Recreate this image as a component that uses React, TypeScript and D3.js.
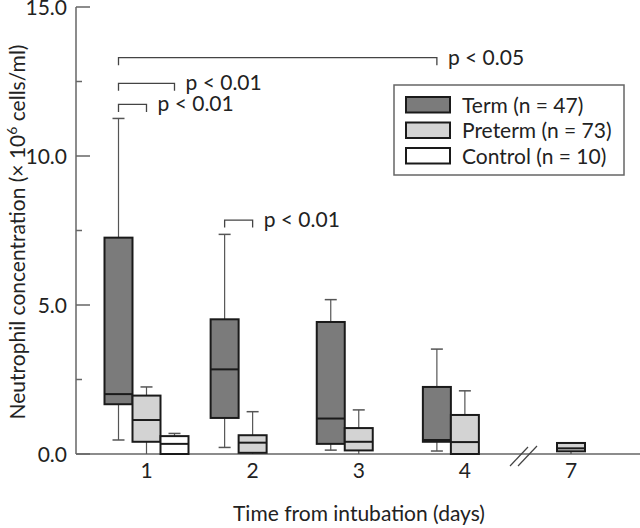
import React from "react";
import * as d3 from "d3";

const days = ["1", "2", "3", "4", "7"];
const groups = ["Term", "Preterm", "Control"];
const groupLabels = ["Term (n = 47)", "Preterm (n = 73)", "Control (n = 10)"];
const groupFills = ["#7b7b7b", "#d3d3d3", "#ffffff"];
const groupOffsets = [-1, 0, 1];

// [min, q1, median, q3, max]; null when absent
const termStats = [
  [0.47, 1.67, 2.01, 7.26, 11.26],
  [0.22, 1.21, 2.84, 4.52, 7.37],
  [0.13, 0.34, 1.19, 4.43, 5.18],
  [0.1, 0.41, 0.47, 2.25, 3.52],
  null,
];
const pretermStats = [
  [0, 0.41, 1.14, 1.96, 2.25],
  [0, 0.04, 0.38, 0.63, 1.42],
  [0, 0.12, 0.41, 0.87, 1.48],
  [0, 0, 0.4, 1.31, 2.12],
  [0, 0.09, 0.19, 0.37, 0.37],
];
const controlStats = [[0, 0, 0.34, 0.6, 0.69], null, null, null, null];

const yMajorTicks = [0, 5, 10, 15];
const yMinorTicks = [2.5, 7.5, 12.5];

const brackets = [
  { y: 13.3, fromDay: "1", fromGroup: 0, toDay: "4", toGroup: 0, label: "p < 0.05" },
  { y: 12.44, fromDay: "1", fromGroup: 0, toDay: "1", toGroup: 2, label: "p < 0.01" },
  { y: 11.73, fromDay: "1", fromGroup: 0, toDay: "1", toGroup: 1, label: "p < 0.01" },
  { y: 7.85, fromDay: "2", fromGroup: 0, toDay: "2", toGroup: 1, label: "p < 0.01" },
];

const FONT = "Lato, 'Open Sans', sans-serif";
const FS = 21;

export default function App() {
  const W = 640;
  const H = 528;
  const axisX = 76;
  const y = d3.scaleLinear().domain([0, 15]).range([454, 7]);
  const x = d3.scalePoint<string>().domain(days).range([146.5, 571]);
  const boxW = 28;
  const capW = 12;
  const allStats = [termStats, pretermStats, controlStats];
  const gx = (day: string, g: number) => (x(day) as number) + groupOffsets[g] * boxW;

  const boxes: any[] = [];
  allStats.forEach((stats, g) => {
    stats.forEach((s, i) => {
      if (!s) return;
      const cx = gx(days[i], g);
      const [mn, q1, md, q3, mx] = s;
      boxes.push(
        <g key={`b-${g}-${i}`}>
          {mx > q3 && (
            <>
              <line x1={cx} x2={cx} y1={y(q3)} y2={y(mx)} stroke="#555" strokeWidth={1.2} />
              <line x1={cx - capW / 2} x2={cx + capW / 2} y1={y(mx)} y2={y(mx)} stroke="#555" strokeWidth={1.5} />
            </>
          )}
          {mn < q1 && (
            <>
              <line x1={cx} x2={cx} y1={y(q1)} y2={y(mn)} stroke="#555" strokeWidth={1.2} />
              {mn > 0 && (
                <line x1={cx - capW / 2} x2={cx + capW / 2} y1={y(mn)} y2={y(mn)} stroke="#555" strokeWidth={1.5} />
              )}
            </>
          )}
          <rect
            x={cx - boxW / 2}
            y={y(q3)}
            width={boxW}
            height={y(q1) - y(q3)}
            fill={groupFills[g]}
            stroke="#1a1a1a"
            strokeWidth={2}
          />
          <line x1={cx - boxW / 2} x2={cx + boxW / 2} y1={y(md)} y2={y(md)} stroke="#1a1a1a" strokeWidth={2} />
        </g>
      );
    });
  });

  const drop = 7.5;

  return (
    <svg width={W} height={H} style={{ display: "block", position: "absolute", left: 0, top: 0 }} fontFamily={FONT}>
      <rect width={W} height={H} fill="#fff" />
      {/* axes */}
      <line x1={axisX} x2={axisX} y1={y(15)} y2={y(0)} stroke="#666" strokeWidth={1.5} />
      <line x1={axisX} x2={W} y1={y(0)} y2={y(0)} stroke="#666" strokeWidth={1.5} />
      {yMajorTicks.map((t) => (
        <g key={`t${t}`}>
          <line x1={axisX} x2={axisX + 14} y1={y(t)} y2={y(t)} stroke="#666" strokeWidth={1.5} />
          <text x={67} y={y(t)} dy="0.36em" textAnchor="end" fontSize={FS} fill="#222">
            {d3.format(".1f")(t)}
          </text>
        </g>
      ))}
      {yMinorTicks.map((t) => (
        <line key={`m${t}`} x1={axisX} x2={axisX + 6} y1={y(t)} y2={y(t)} stroke="#666" strokeWidth={1.5} />
      ))}
      {/* axis break */}
      <line x1={510} y1={466} x2={528} y2={447} stroke="#444" strokeWidth={1.2} />
      <line x1={518} y1={466} x2={537} y2={446} stroke="#444" strokeWidth={1.2} />
      {days.map((d) => (
        <text key={`xl${d}`} x={x(d)} y={478} textAnchor="middle" fontSize={FS} fill="#222">
          {d}
        </text>
      ))}
      {boxes}
      {/* brackets */}
      {brackets.map((b, i) => {
        const x1 = gx(b.fromDay, b.fromGroup);
        const x2 = gx(b.toDay, b.toGroup);
        const yy = y(b.y);
        return (
          <g key={`br${i}`}>
            <path
              d={`M${x1},${yy + drop}V${yy}H${x2}V${yy + drop}`}
              fill="none"
              stroke="#444"
              strokeWidth={1.3}
            />
            <text x={x2 + 11} y={yy + 7} fontSize={FS} fill="#222">
              {b.label}
            </text>
          </g>
        );
      })}
      {/* legend */}
      <rect x={394} y={85} width={230} height={90} fill="#fff" stroke="#666" strokeWidth={1.5} />
      {groupLabels.map((l, i) => (
        <g key={`lg${i}`}>
          <rect x={406} y={97 + i * 25.5} width={44} height={15.5} fill={groupFills[i]} stroke="#1a1a1a" strokeWidth={2} />
          <text x={462} y={112.5 + i * 25.5} fontSize={FS} fill="#222">
            {l}
          </text>
        </g>
      ))}
      {/* axis titles */}
      <text x={359} y={521} textAnchor="middle" fontSize={FS} fill="#222">
        Time from intubation (days)
      </text>
      <text transform={`translate(25,232) rotate(-90)`} textAnchor="middle" fontSize={FS} fill="#222">
        Neutrophil concentration (× 10<tspan dy={-8} fontSize={14}>6</tspan>
        <tspan dy={8}> cells/ml)</tspan>
      </text>
    </svg>
  );
}
